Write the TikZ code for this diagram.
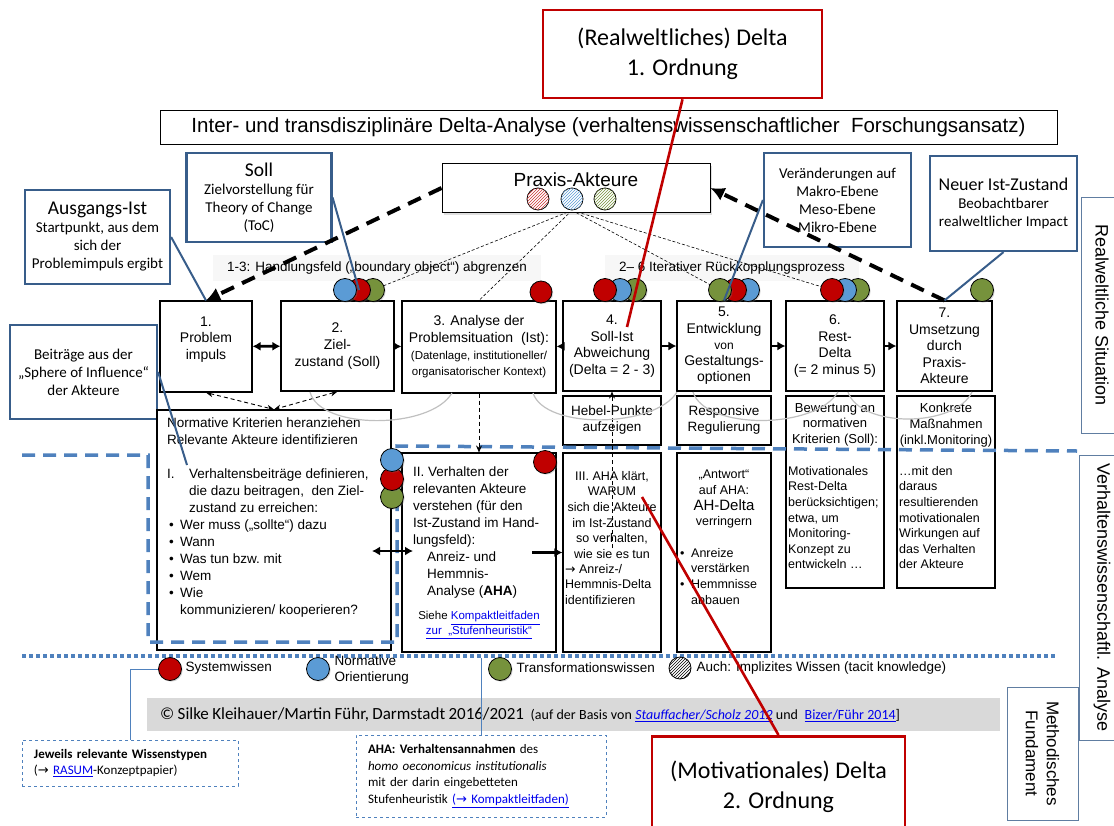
\documentclass[tikz,border=0pt]{standalone}
\usepackage{fontspec}
\setmainfont{Liberation Sans}
\newfontfamily\calibri{Carlito}
\newfontfamily\pfeilfont{DejaVu Sans}
\usetikzlibrary{positioning, arrows.meta, shadows, patterns, backgrounds}

\definecolor{rahmenblau}{RGB}{56,93,138}
\definecolor{strichblau}{RGB}{79,129,189}
\definecolor{deltarot}{RGB}{192,0,0}
\definecolor{wissenrot}{RGB}{192,0,0}
\definecolor{wissenblau}{RGB}{91,155,213}
\definecolor{wissengruen}{RGB}{118,146,60}
\definecolor{balkengrau}{RGB}{217,217,217}
\definecolor{bogengrau}{RGB}{192,192,192}
\definecolor{linkblau}{RGB}{0,0,238}

\newcommand{\schrift}[2]{\fontsize{#1}{#2}\selectfont}
\newcommand{\pfeil}{{\pfeilfont →}}
\newcommand{\verweis}[1]{\textcolor{linkblau}{\underline{#1}}}
\newcommand{\aufz}{\makebox[13pt][l]{\hspace{2pt}\textbullet}}

\begin{document}
\begin{tikzpicture}[x=1pt, y=-1pt,
    schritt/.style={rectangle, draw=black, fill=white, line width=1.1pt, align=center, inner sep=2pt, font=\schrift{14}{16.7}},
    feld/.style={rectangle, draw=black, fill=white, line width=1.1pt, inner sep=0pt},
    feldtext/.style={inner sep=2pt, font=\schrift{13.5}{17}},
    callout/.style={rectangle, draw=rahmenblau, line width=2.2pt, fill=white, align=center, font=\calibri\schrift{15}{18}},
    deltabox/.style={rectangle, draw=deltarot, line width=2.6pt, fill=white, align=center, font=\calibri\schrift{24}{30}},
    seitenbox/.style={rectangle, draw=rahmenblau!80, line width=0.9pt, fill=white, rotate=-90, font=\schrift{18}{21}},
    hinweis/.style={rectangle, draw=strichblau, dashed, line width=0.7pt, fill=white, align=left, inner xsep=12pt, font=\calibri\schrift{13}{16.5}},
    wissen/.style={circle, draw=black, line width=0.8pt, minimum size=23pt, inner sep=0pt, drop shadow={opacity=0.3, shadow xshift=1.2pt, shadow yshift=-1.2pt}},
    implizit/.style={circle, draw=black, line width=0.8pt, minimum size=22pt, inner sep=0pt, fill=white, postaction={pattern=north east lines, pattern color=#1}},
    bereich/.style={fill=black!3, inner xsep=14pt, inner ysep=7pt, font=\schrift{13.5}{16}},
    legende/.style={anchor=west, align=left, font=\schrift{13.5}{16.5}},
    grossfluss/.style={-{Latex[length=14pt,width=14pt]}, line width=4pt, dash pattern=on 14pt off 9pt},
    fluss/.style={-{Latex[length=8pt,width=9pt]}, line width=2.6pt},
    doppelfluss/.style={{Latex[length=8pt,width=9pt]}-{Latex[length=8pt,width=9pt]}, line width=2.6pt},
    bezug/.style={{Stealth[length=7pt,width=6pt]}-{Stealth[length=7pt,width=6pt]}, line width=0.9pt, dash pattern=on 4pt off 3pt},
    bezugpfeil/.style={-{Stealth[length=7pt,width=6pt]}, line width=0.9pt, dash pattern=on 4pt off 3pt},
    facher/.style={line width=0.6pt, dash pattern=on 3pt off 2pt},
    zeiger/.style={draw=rahmenblau, line width=2pt},
    rotzeiger/.style={draw=deltarot, line width=2.6pt},
    bogen/.style={draw=bogengrau, line width=1.2pt},
    strichlinie/.style={draw=strichblau, line width=3.5pt, dash pattern=on 13pt off 8pt},
    punktlinie/.style={draw=strichblau, line width=3.5pt, dash pattern=on 3.5pt off 3.5pt}
  ]
  \useasboundingbox (0,0) rectangle (1114,825);

  % Titel und Praxis-Akteure
  \node[rectangle, draw=black, line width=0.8pt, minimum width=897pt, minimum height=34pt, font=\schrift{20.5}{24}] (titel) at (608.5,127.5)
    {Inter- und transdisziplinäre Delta-Analyse (verhaltenswissenschaftlicher\ \ Forschungsansatz)};
  \node[rectangle, draw=black, line width=1pt, fill=white, minimum width=268pt, minimum height=49pt,
        drop shadow={opacity=0.25, shadow xshift=2pt, shadow yshift=-2pt}] (praxis) at (576,188) {};
  \node[font=\schrift{19}{22}] (praxistext) at (576,180) {Praxis-Akteure};
  \node[implizit=wissenrot!80] (akt-r) at (538,199) {};
  \node[implizit=wissenblau] (akt-b) at (572,199) {};
  \node[implizit=wissengruen] (akt-g) at (605,199) {};

  % Sprechblasen
  \node[callout, minimum width=145pt, minimum height=94pt] (ausgangsist) at (97.5,237)
    {{\schrift{19.5}{24}Ausgangs-Ist}\\Startpunkt, aus dem\\sich der\\Problemimpuls ergibt};
  \node[callout, minimum width=145pt, minimum height=89pt] (soll) at (259,197.5)
    {{\schrift{19.5}{24}Soll}\\Zielvorstellung für\\Theory of Change\\(ToC)};
  \node[callout, minimum width=147pt, minimum height=94pt] (veraenderungen) at (837.5,200)
    {Veränderungen auf\\Makro-Ebene\\Meso-Ebene\\Mikro-Ebene};
  \node[callout, minimum width=147pt, minimum height=95pt] (neuerist) at (1003.5,203.5)
    {{\schrift{18}{22}Neuer Ist-Zustand}\\Beobachtbarer\\realweltlicher Impact};
  \node[callout, minimum width=147pt, minimum height=94pt] (beitraege) at (83.5,372)
    {Beiträge aus der\\„Sphere of Influence“\\der Akteure};

  % Seitenleisten
  \node[seitenbox, minimum width=236pt, minimum height=42pt] (realwelt) at (1102,315) {Realweltliche Situation};
  \node[seitenbox, minimum width=285pt, minimum height=46pt] (analyse) at (1102,597.5) {Verhaltenswissenschaftl. Analyse};
  \node[seitenbox, minimum width=133pt, minimum height=71pt, align=center, font=\schrift{17}{21}] (fundament) at (1042.5,753.5)
    {Methodisches\\Fundament};

  % Schritte 1-7
  \node[schritt, minimum width=92pt, minimum height=91pt] (schritt1) at (206,346.5) {1.\\Problem\\impuls\\\mbox{}};
  \node[schritt, minimum width=113pt, minimum height=90pt] (schritt2) at (337.5,346) {2.\\Ziel-\\zustand (Soll)};
  \node[schritt, minimum width=154pt, minimum height=92pt] (schritt3) at (479,347)
    {3. Analyse der\\Problemsituation\ \ (Ist):\\{\schrift{11.5}{16.7}(Datenlage, institutioneller/}\\{\schrift{11.5}{16.7}organisatorischer Kontext)}};
  \node[schritt, minimum width=98pt, minimum height=90pt] (schritt4) at (612,346) {4.\\Soll-Ist\\Abweichung\\(Delta = 2 - 3)};
  \node[schritt, minimum width=94pt, minimum height=90pt, font=\schrift{14}{16.3}] (schritt5) at (724,346)
    {5.\\Entwicklung\\{\schrift{12}{16.3}von}\\Gestaltungs-\\optionen};
  \node[schritt, minimum width=98pt, minimum height=90pt] (schritt6) at (835,346) {6.\\Rest-\\Delta\\(= 2 minus 5)};
  \node[schritt, minimum width=95pt, minimum height=90pt, font=\schrift{14}{16.5}] (schritt7) at (944.5,346)
    {7.\\Umsetzung\\durch\\Praxis-\\Akteure};

  % zweite Reihe
  \node[schritt, minimum width=98pt, minimum height=49pt, font=\schrift{13.5}{16}] (hebel) at (612,420.5) {Hebel-Punkte\\aufzeigen};
  \node[schritt, minimum width=94pt, minimum height=49pt, font=\schrift{13.5}{16}] (responsiv) at (724,420.5) {Responsive\\Regulierung};
  \node[feld, minimum width=98pt, minimum height=192pt] (bewertung) at (835,492) {};
  \node[feldtext, anchor=north, align=center, font=\schrift{13}{15.8}] (bewertungtext) at (835,401)
    {Bewertung an\\normativen\\Kriterien (Soll):};
  \node[feldtext, anchor=north west, align=left, font=\schrift{12.5}{15.6}] (motivtext) at (786,464)
    {Motivationales\\Rest-Delta\\berücksichtigen;\\etwa, um\\Monitoring-\\Konzept zu\\entwickeln …};
  \node[feld, minimum width=98pt, minimum height=192pt] (massnahmen) at (946,492) {};
  \node[feldtext, anchor=north, align=center, font=\schrift{13}{15.8}] (massnahmentext) at (946,401)
    {Konkrete\\Maßnahmen\\(inkl.Monitoring)};
  \node[feldtext, anchor=north west, align=left, font=\schrift{12.5}{15.6}] (wirkungtext) at (897,464)
    {…mit den\\daraus\\resultierenden\\motivationalen\\Wirkungen auf\\das Verhalten\\der Akteure};

  % untere Felder
  \node[feld, minimum width=234pt, minimum height=240pt] (kriterien) at (274,530) {};
  \node[feldtext, anchor=north west, align=left] (kriterientext) at (165,416)
    {Normative Kriterien heranziehen\\
     Relevante Akteure identifizieren\\[17pt]
     \makebox[22pt][l]{I.}Verhaltensbeiträge definieren,\\
     \hspace*{22pt}die dazu beitragen,\ \ den Ziel-\\
     \hspace*{22pt}zustand zu erreichen:\\
     \aufz Wer muss („sollte“)\ dazu\\
     \aufz Wann\\
     \aufz Was tun bzw.\ mit\\
     \aufz Wem\\
     \aufz Wie\\
     \hspace*{13pt}kommunizieren/ kooperieren?};
  \node[feld, minimum width=154pt, minimum height=199pt] (verhalten) at (479,552.5) {};
  \node[feldtext, anchor=north west, align=left] (verhaltentext) at (411,465)
    {II. Verhalten der\\relevanten Akteure\\verstehen (für den\\Ist-Zustand im Hand-\\lungsfeld):\\
     \hspace*{14pt}Anreiz- und\\\hspace*{14pt}Hemmnis-\\\hspace*{14pt}Analyse (\textbf{AHA})};
  \node[font=\schrift{11.5}{15}, align=center] (siehe) at (479,625)
    {Siehe \verweis{Kompaktleitfaden}\\\verweis{zur\ \ „Stufenheuristik“}};
  \node[feld, minimum width=98pt, minimum height=199pt] (aha) at (612,552.5) {};
  \node[feldtext, anchor=north, align=center, font=\schrift{12.5}{15.6}] (ahatext) at (612,469)
    {III. AHA klärt,\\WARUM\\sich die Akteure\\im Ist-Zustand\\so verhalten,\\wie sie es tun};
  \node[feldtext, anchor=north west, align=left, font=\schrift{12.5}{15.6}] (ahadelta) at (563,562)
    {\pfeil\ Anreiz-/\\Hemmnis-Delta\\identifizieren};
  \node[feld, minimum width=94pt, minimum height=199pt] (antwort) at (724,552.5) {};
  \node[feldtext, anchor=north, align=center, font=\schrift{12.5}{15.6}] (antworttext) at (724,468)
    {„Antwort“\\auf AHA:\\{\schrift{15}{17}AH-Delta}\\verringern};
  \node[feldtext, anchor=north west, align=left, font=\schrift{12.5}{15.6}] (antwortpunkte) at (676,546)
    {\aufz Anreize\\\hspace*{13pt}verstärken\\\aufz Hemmnisse\\\hspace*{13pt}abbauen};

  % blaue Rahmenlinien
  \draw[strichlinie] (22,455) -- (148,455) -- (148,642) -- (397,642) -- (397,446) -- (1077,451);
  \draw[punktlinie] (22,656) -- (1055,656);

  % grosse Rueckkopplung
  \draw[grossfluss] (praxis.west) -- (schritt1.north);
  \draw[grossfluss] (schritt7.north) -- (praxis.east);

  % Wissenstypen
  \node[wissen, fill=wissengruen] (k2-gruen) at (373,290) {};
  \node[wissen, fill=wissenrot] (k2-rot) at (359,290) {};
  \node[wissen, fill=wissenblau] (k2-blau) at (345,290) {};
  \node[wissen, fill=wissenrot, minimum size=22pt] (k3-rot) at (541,292) {};
  \node[wissen, fill=wissengruen] (k4-gruen) at (635,290) {};
  \node[wissen, fill=wissenblau] (k4-blau) at (620,290) {};
  \node[wissen, fill=wissenrot] (k4-rot) at (605,290) {};
  \node[wissen, fill=wissenblau] (k5-blau) at (748,290) {};
  \node[wissen, fill=wissenrot] (k5-rot) at (735,290) {};
  \node[wissen, fill=wissengruen] (k5-gruen) at (720,290) {};
  \node[wissen, fill=wissengruen] (k6-gruen) at (858,290) {};
  \node[wissen, fill=wissenblau] (k6-blau) at (845,290) {};
  \node[wissen, fill=wissenrot] (k6-rot) at (832,290) {};
  \node[wissen, fill=wissengruen] (k7-gruen) at (982,290) {};
  \node[wissen, fill=wissenrot] (kII-rot) at (545,462) {};
  \node[wissen, fill=wissengruen] (kL-gruen) at (392,497) {};
  \node[wissen, fill=wissenrot] (kL-rot) at (392,479) {};
  \node[wissen, fill=wissenblau] (kL-blau) at (392,460) {};

  % Pfeile zwischen den Schritten
  \draw[doppelfluss] (schritt1) -- (schritt2);
  \draw[fluss] (schritt2) -- (schritt3);
  \draw[fluss] (schritt4) -- (schritt3);
  \draw[fluss] (schritt4) -- (schritt5);
  \draw[fluss] (schritt5) -- (schritt6);
  \draw[fluss] (schritt6) -- (schritt7);
  \coordinate (quer-l) at (372,551);
  \coordinate (quer-r) at (413,551);
  \draw[doppelfluss] (quer-l) -- (quer-r);
  \coordinate (aha-start) at (532,552.5);
  \draw[fluss] (aha-start) -- (aha.west);
  \draw[bezug] (schritt1.south) -- (kriterien.north);
  \draw[bezug] (schritt2.south) -- (kriterien.north);
  \draw[bezugpfeil] (schritt3.south) -- (verhalten.north);
  \coordinate (aha-mitte) at (612,548);
  \draw[bezugpfeil] (aha-mitte) -- (schritt4.south);

  % iterative Boegen
  \draw[bogen] (310,392) .. controls (320,430) and (430,430) .. (452,393);
  \draw[bogen] (533,393) .. controls (545,430) and (655,428) .. (677,392);
  \draw[bogen] (693,392) .. controls (705,430) and (815,430) .. (838,392);
  \draw[bogen] (848,392) .. controls (860,428) and (955,428) .. (972,392);

  % Zeiger der Sprechblasen
  \draw[zeiger] (ausgangsist.east) -- (schritt1.north);
  \draw[zeiger] (soll.east) -- (k2-rot.center);
  \draw[zeiger] (veraenderungen.west) -- (schritt5.north);
  \draw[zeiger] (neuerist.south) -- (schritt7.north);
  \coordinate (beitrag-ziel) at (187,465);
  \draw[zeiger] (beitraege.east) -- (beitrag-ziel);

  % Legende
  \node[wissen, fill=wissenrot] (leg-rot) at (170,669) {};
  \node[legende] (leg-rot-text) at (182,668) {Systemwissen};
  \node[wissen, fill=wissenblau] (leg-blau) at (318,669) {};
  \node[legende] (leg-blau-text) at (331,670) {Normative\\Orientierung};
  \node[wissen, fill=wissengruen] (leg-gruen) at (500,669) {};
  \node[legende] (leg-gruen-text) at (513,668) {Transformationswissen};
  \node[implizit=black] (leg-implizit) at (680,668) {};
  \node[legende] (leg-implizit-text) at (693,668) {Auch: Implizites Wissen (tacit knowledge)};

  % Fussleiste
  \node[fill=balkengrau, anchor=west, minimum height=33pt, text width=827pt, inner xsep=13pt, align=left] (copyright) at (147,714.5)
    {{\calibri\schrift{17}{20}© Silke Kleihauer/Martin Führ, Darmstadt 2016/2021}\ \ {\calibri\schrift{14}{16}(auf der Basis von \verweis{\textit{Stauffacher/Scholz 2012}} und\ \ \verweis{Bizer/Führ 2014}]}};
  \node[hinweis, minimum width=216pt, minimum height=46pt, text width=192pt] (wissenstypen) at (130,763)
    {\textbf{Jeweils relevante Wissenstypen}\\(\pfeil\ \verweis{RASUM}-Konzeptpapier)};
  \node[hinweis, minimum width=250pt, minimum height=82pt, text width=226pt] (ahahinweis) at (481,776)
    {\textbf{AHA: Verhaltensannahmen} des\\\textit{homo oeconomicus institutionalis}\\mit der darin eingebetteten\\Stufenheuristik \verweis{(\pfeil\ Kompaktleitfaden)}};
  \draw[strichblau, line width=0.7pt] (wissenstypen.north) |- (leg-rot.west);
  \coordinate (aha-oben) at (481,658);
  \draw[strichblau, line width=0.7pt] (ahahinweis.north) -- (aha-oben);

  % Delta 1. und 2. Ordnung
  \node[deltabox, minimum width=279pt, minimum height=88pt] (delta1) at (682.5,54) {(Realweltliches) Delta\\1. Ordnung};
  \node[deltabox, minimum width=253pt, minimum height=100pt, anchor=north] (delta2) at (778.5,735) {(Motivationales) Delta\\2. Ordnung};
  \coordinate (sollist) at (627,327);
  \draw[rotzeiger] (delta1.south) -- (sollist);
  \coordinate (warum) at (642,497);
  \draw[rotzeiger] (delta2.north) -- (warum);

  % Hintergrund: Bereiche und Faecher
  \begin{scope}[on background layer]
    \node[bereich] (handlungsfeld) at (377,268) {1-3: Handlungsfeld („boundary object“) abgrenzen};
    \node[bereich] (rueckkopplung) at (732,268) {2– 6 Iterativer Rückkopplungsprozess};
    \draw[facher] (akt-b.south) -- (k2-gruen.center);
    \draw[facher] (akt-b.south) -- (schritt3.north);
    \draw[facher] (akt-b.south) -- (k5-gruen.center);
    \draw[facher] (akt-b.south) -- (k6-rot.center);
  \end{scope}
\end{tikzpicture}
\end{document}
